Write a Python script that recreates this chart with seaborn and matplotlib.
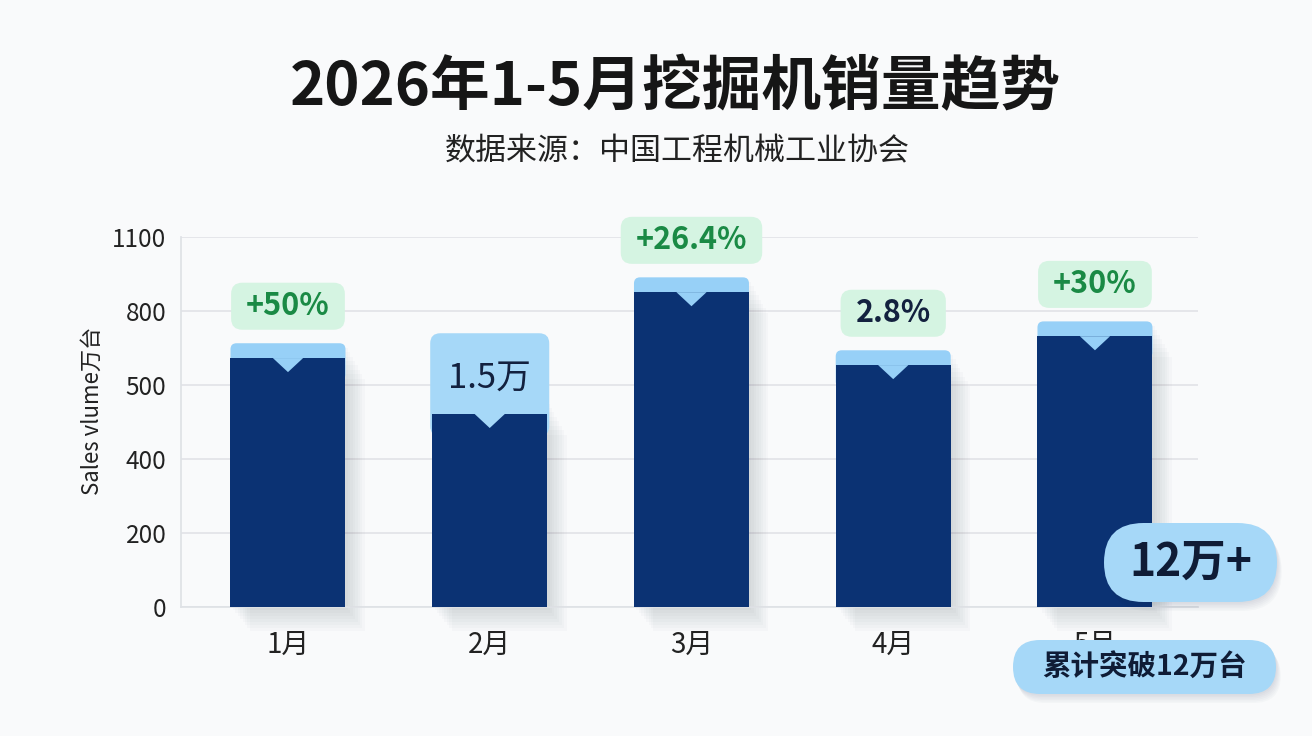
import numpy as np
import pandas as pd
import seaborn as sns
import matplotlib.pyplot as plt
from matplotlib.patches import FancyBboxPatch, Polygon, Rectangle

# 数据
months = ["1月", "2月", "3月", "4月", "5月"]
sales = [673, 522, 851, 654, 732]          # 柱高（按图中纵轴位置读取）
labels = ["+50%", "1.5万", "+26.4%", "2.8%", "+30%"]
label_colors = ["#1a8a45", "#13213f", "#1a8a45", "#13213f", "#1a8a45"]
ytick_pos = [0, 200, 400, 600, 800, 1000]
ytick_labels = ["0", "200", "400", "500", "800", "1100"]

title = "2026年1-5月挖掘机销量趋势"
subtitle = "数据来源：中国工程机械工业协会"
ylabel = "Sales vlume万台"
badge_big = "12万+"
badge_small = "累计突破12万台"

navy = "#0b3273"
cap_blue = "#97d0f7"
box_blue = "#a6d8f8"
green_bg = "#d5f4e2"
bg = "#f9fafb"

sns.set_theme(style="whitegrid")
plt.rcParams['font.family'] = ['Noto Sans CJK SC', 'DejaVu Sans']

fig, ax = plt.subplots(figsize=(13.12, 7.36), dpi=100)
fig.patch.set_facecolor(bg)
ax.set_facecolor(bg)
fig.subplots_adjust(left=0.138, right=0.913, bottom=0.175, top=0.678)

df = pd.DataFrame({"month": months, "sales": sales})
sns.barplot(data=df, x="month", y="sales", color=navy, width=0.57,
            saturation=1, ax=ax, zorder=3, linewidth=0)

ax.set_xlim(-0.53, 4.51)
ax.set_ylim(0, 1000)

# 像素 -> 数据单位
px_x = 5.04 / 1017
px_y = 1000 / 370
asp = px_y / px_x

renderer = fig.canvas.get_renderer()

for i, p in enumerate(ax.patches[:len(months)]):
    x0, w, h = p.get_x(), p.get_width(), p.get_height()
    cx = x0 + w / 2
    # 阴影
    for k in range(1, 9):
        ax.add_patch(Rectangle((x0 + k * 0.012, -k * 8), w, h + 40 - k * 4,
                               fc="#1a2a40", ec="none", alpha=0.018,
                               zorder=1, clip_on=False))
    if i == 1:
        ax.add_patch(FancyBboxPatch((x0 - 0.01, h - 60), w + 0.02, 278,
                                    boxstyle="round,pad=0,rounding_size=0.05",
                                    mutation_aspect=asp, fc=box_blue, ec="none",
                                    zorder=2))
        ax.text(cx, h + 97, labels[i], ha="center", va="center", fontsize=25,
                color=label_colors[i], zorder=6)
    else:
        ax.add_patch(FancyBboxPatch((x0, h - 60), w, 100,
                                    boxstyle="round,pad=0,rounding_size=0.03",
                                    mutation_aspect=asp, fc=cap_blue, ec="none",
                                    zorder=2))
        ty = h + 140
        t = ax.text(cx, ty, labels[i], ha="center", va="center", fontsize=22,
                    fontweight="bold", color=label_colors[i], zorder=6,
                    clip_on=False)
        bw = (t.get_window_extent(renderer).width + 30) * px_x
        bh = 47 * px_y
        ax.add_patch(FancyBboxPatch((cx - bw / 2, ty - bh / 2), bw, bh,
                                    boxstyle="round,pad=0,rounding_size=0.055",
                                    mutation_aspect=asp, fc=green_bg, ec="none",
                                    zorder=5, clip_on=False))
    ax.add_patch(Polygon([(cx - 0.075, h), (cx + 0.075, h), (cx, h - 38)],
                         closed=True, fc=cap_blue if i != 1 else box_blue,
                         ec="none", zorder=4))

ax.set_yticks(ytick_pos, ytick_labels)
ax.tick_params(axis="y", labelsize=17.5, pad=4.5, colors="#222222")
ax.tick_params(axis="x", labelsize=20, pad=10, colors="#222222")
ax.grid(axis="y", color="#e1e3e7", lw=1.2)
ax.grid(axis="x", visible=False)
for s in ["top", "right"]:
    ax.spines[s].set_visible(False)
for s in ["left", "bottom"]:
    ax.spines[s].set_color("#dfe2e6")
ax.set_xlabel("")
ax.set_ylabel(ylabel, fontsize=16, labelpad=6, color="#222222")
ax.yaxis.label.set_y(0.53)

fig.text(0.5145, 1 - 88 / 736, title, ha="center", va="center",
         fontsize=43, fontweight="bold", color="#161616")
fig.text(0.5165, 1 - 152 / 736, subtitle, ha="center", va="center",
         fontsize=22.3, color="#222222")

# 右下角徽标
ov = fig.add_axes([0, 0, 1, 1], zorder=10)
ov.set_xlim(0, 1312)
ov.set_ylim(736, 0)
ov.axis("off")
ov.patch.set_alpha(0)

def pill(x, y, w, h, text, size, weight):
    for k in range(1, 7):
        ov.add_patch(FancyBboxPatch((x + k * 0.8, y + k * 1.5), w, h,
                                    boxstyle=f"round,pad=0,rounding_size={h / 2}",
                                    fc="#203050", ec="none", alpha=0.025))
    ov.add_patch(FancyBboxPatch((x, y), w, h,
                                boxstyle=f"round,pad=0,rounding_size={h / 2}",
                                fc=box_blue, ec="none"))
    ov.text(x + w / 2, y + h / 2, text, ha="center", va="center",
            fontsize=size, fontweight=weight, color="#0f1c36")

pill(1104, 523, 173, 79, badge_big, 32, "bold")
pill(1013, 640, 263, 54, badge_small, 20.5, "bold")

plt.savefig("out.png", dpi=100, facecolor=fig.get_facecolor())
